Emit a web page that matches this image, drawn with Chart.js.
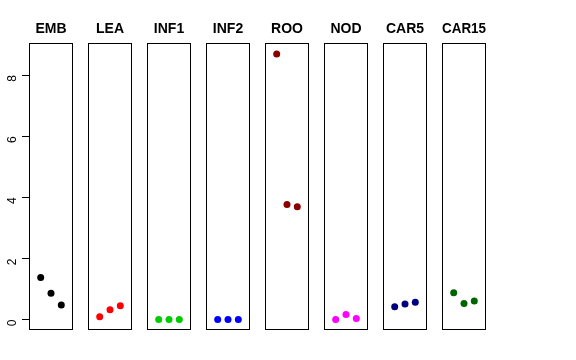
<!DOCTYPE html>
<html>
<head>
<meta charset="utf-8">
<script src="https://cdn.jsdelivr.net/npm/chart.js@4"></script>
<style>
    body { margin: 0; background: #fff; }
    #wrap { position: relative; width: 576px; height: 360px; }
    canvas { position: absolute; top: 0; }
</style>
</head>
<body>
<div id="wrap"></div>
<script>
// ------------ Dados ------------ //

var panelNames = ['EMB', 'LEA', 'INF1', 'INF2', 'ROO', 'NOD', 'CAR5', 'CAR15'];
var positions = [1, 2, 3];
var embValues = [1.38, 0.86, 0.48];
var leaValues = [0.09, 0.32, 0.45];
var inf1Values = [0.0, 0.0, 0.0];
var inf2Values = [0.0, 0.0, 0.0];
var rooValues = [8.69, 3.77, 3.69];
var nodValues = [0.0, 0.17, 0.04];
var car5Values = [0.42, 0.51, 0.57];
var car15Values = [0.88, 0.53, 0.61];
var panelColors = ['#000000', '#ff0000', '#00cd00', '#0000ff', '#8b0000', '#ff00ff', '#000080', '#006400'];
var yTicks = [0, 2, 4, 6, 8];

var allValues = [embValues, leaValues, inf1Values, inf2Values, rooValues, nodValues, car5Values, car15Values];

// ------------ Plugin da caixa ------------ //

var boxPlugin = {
    id: 'box',
    afterDraw: function (chart) {
        var a = chart.chartArea, c = chart.ctx;
        c.save();
        c.strokeStyle = '#000';
        c.lineWidth = 1;
        c.strokeRect(Math.round(a.left) + 0.5, Math.round(a.top) + 0.5,
            Math.round(a.right - a.left) - 1, Math.round(a.bottom - a.top) - 1);
        c.restore();
    }
};

// ------------ Gráficos ------------ //

var wrap = document.getElementById('wrap');
var font = 'Liberation Sans, Arial, Helvetica, sans-serif';

panelNames.forEach(function (name, i) {
    var first = i === 0;
    var left = 29 + i * 59;
    var canvas = document.createElement('canvas');
    canvas.width = first ? 73 : 58;
    canvas.height = 360;
    canvas.style.left = (first ? 0 : left - 7) + 'px';
    wrap.appendChild(canvas);

    new Chart(canvas.getContext('2d'), {
        type: 'scatter',
        data: {
            datasets: [{
                data: positions.map(function (p, k) { return { x: p, y: allValues[i][k] }; }),
                backgroundColor: panelColors[i],
                borderColor: panelColors[i],
                pointRadius: 3.5,
                borderWidth: 0
            }]
        },
        options: {
            responsive: false,
            animation: false,
            layout: {
                autoPadding: false,
                padding: { left: first ? 0 : 7, right: first ? 0 : 7, top: 0, bottom: 30 }
            },
            plugins: {
                legend: { display: false },
                tooltip: { enabled: false },
                title: {
                    display: true,
                    text: name,
                    fullSize: !first,
                    color: '#000',
                    font: { family: font, size: 14, weight: 'bold' },
                    padding: { top: 21, bottom: 5 }
                }
            },
            scales: {
                x: { type: 'linear', min: -0.135, max: 4.135, display: false },
                y: {
                    min: -0.34,
                    max: 9.06,
                    display: first,
                    border: { display: false },
                    grid: { drawOnChartArea: false, drawTicks: true, tickLength: 7, color: '#000' },
                    ticks: {
                        color: '#000',
                        font: { family: font, size: 12 },
                        minRotation: 90,
                        maxRotation: 90,
                        padding: 9
                    },
                    afterBuildTicks: function (s) {
                        s.ticks = yTicks.map(function (v) { return { value: v }; });
                    },
                    afterFit: function (s) { if (first) s.width = 29; }
                }
            }
        },
        plugins: [boxPlugin]
    });
});
</script>
</body>
</html>
